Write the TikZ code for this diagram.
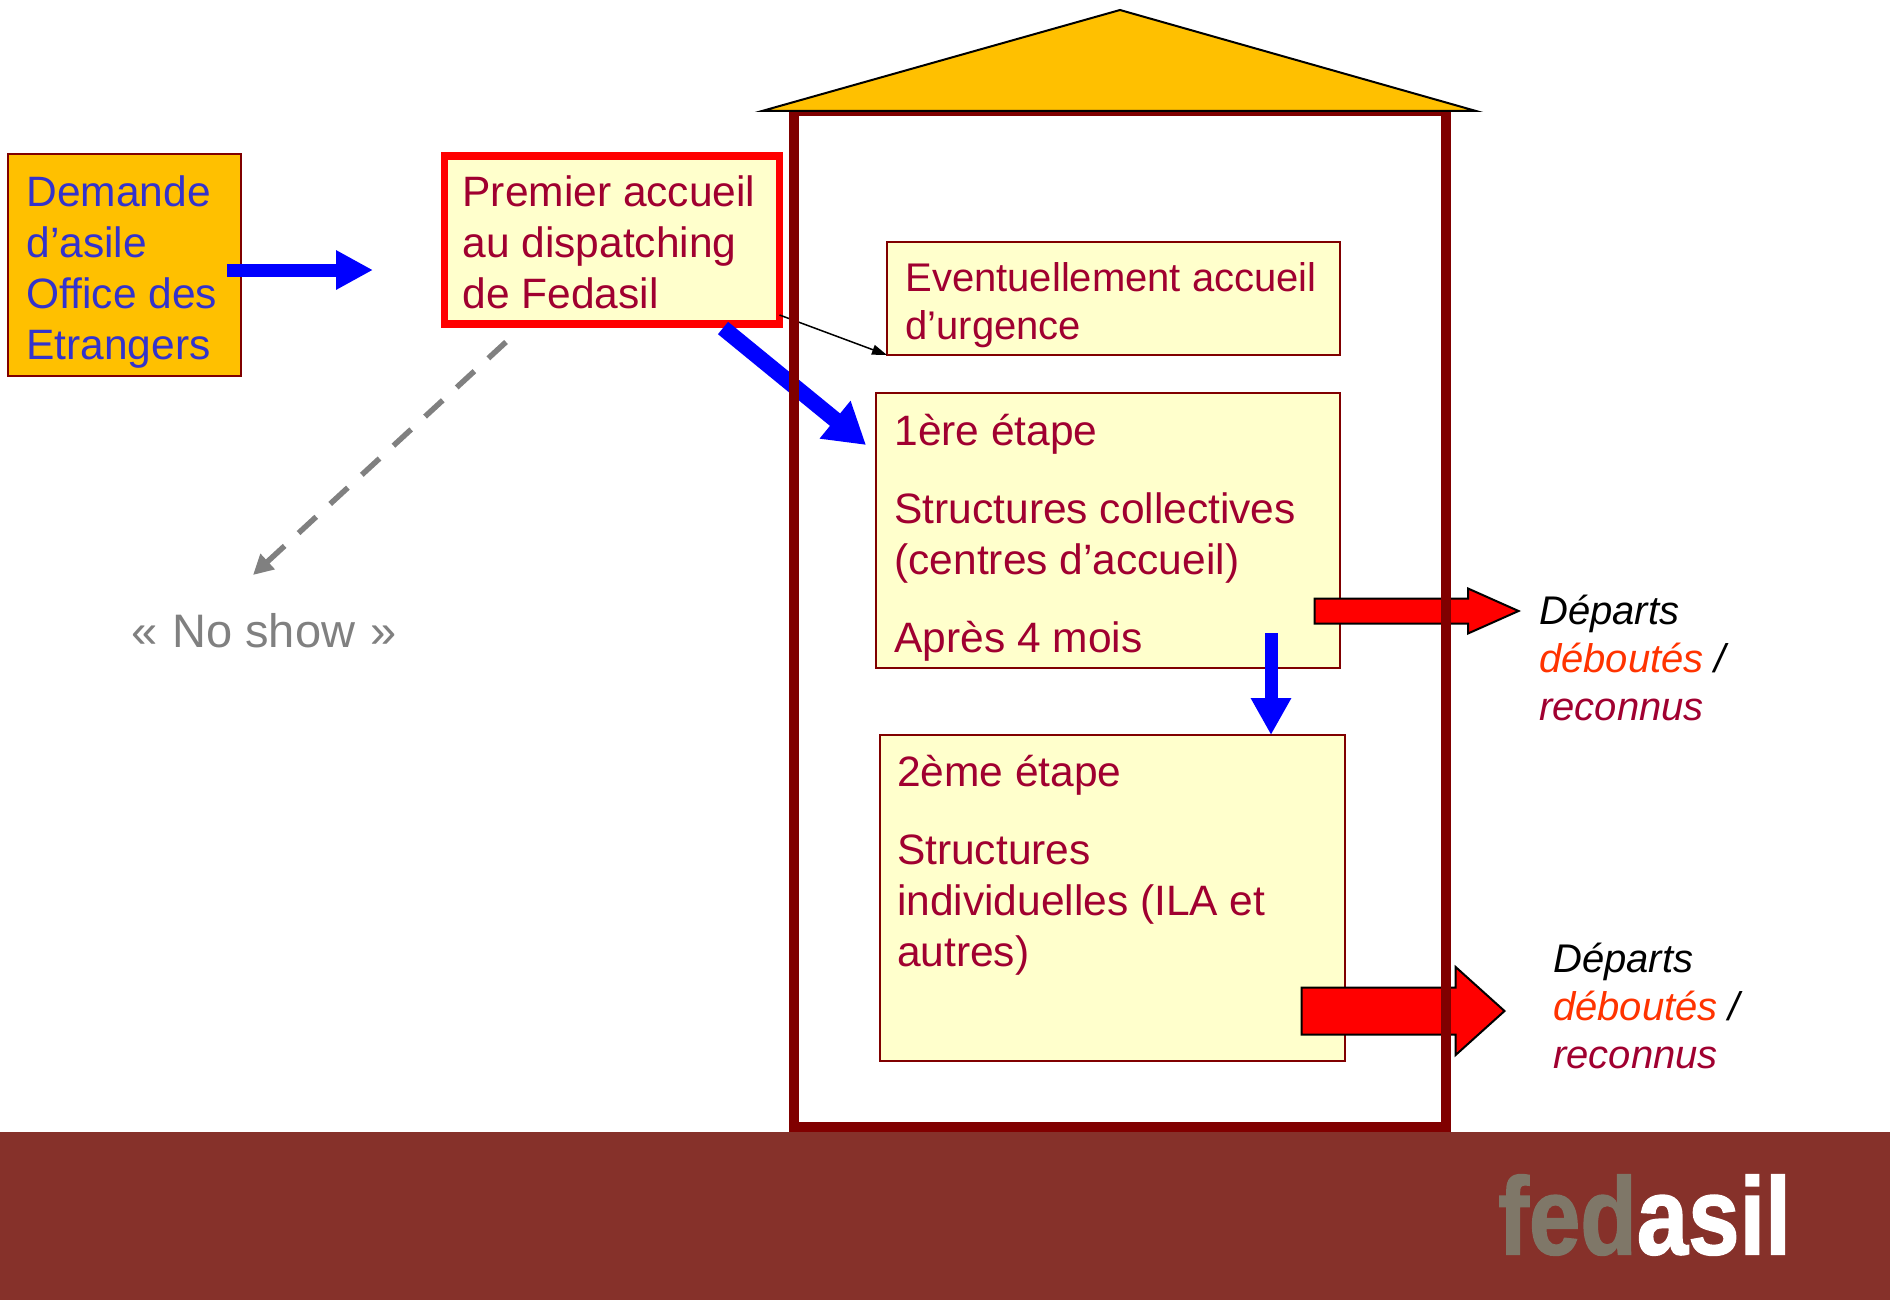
\documentclass[tikz,border=0pt]{standalone}
\usepackage{fontspec}
\usepackage{xcolor}
\usetikzlibrary{arrows.meta,shapes.arrows}
\setmainfont{Liberation Sans}
\definecolor{frameRed}{HTML}{800000}
\definecolor{roofGold}{HTML}{FFC000}
\definecolor{paleBox}{HTML}{FFFFCC}
\definecolor{boxText}{HTML}{A00030}
\definecolor{askText}{HTML}{3333CC}
\definecolor{refusedText}{HTML}{FF3300}
\definecolor{barBrown}{HTML}{86312A}
\definecolor{logoGrey}{HTML}{7F7768}
\newcommand{\fontBig}{\fontsize{42.5pt}{51pt}\selectfont}
\newcommand{\fontSmall}{\fontsize{40pt}{48pt}\selectfont}
\newcommand{\tophead}[1]{\rule{0pt}{#1pt}}
\tikzset{
	infobox/.style={draw=frameRed, line width=2pt, fill=paleBox, text=boxText, anchor=north west, align=flush left, outer sep=0pt, inner xsep=18.4pt, inner ysep=0pt, font=\fontBig},
	bluearrow/.style={draw=blue, line width=13pt, -{Triangle[length=37pt,width=37pt]}},
	departarrow/.style={single arrow, draw=black, fill=red, line width=2pt, inner xsep=0pt, anchor=tip, single arrow head indent=0pt},
	departtext/.style={anchor=north west, align=flush left, inner sep=0pt, font=\fontSmall\itshape}
}
\begin{document}
\begin{tikzpicture}[x=1pt, y=-1pt]
	\useasboundingbox (0,0) rectangle (1890,1300);
	\fill[barBrown] (0,1132) rectangle (1890,1300);
	\node[anchor=west, inner sep=0pt, font=\fontsize{110pt}{110pt}\bfseries\addfontfeature{FakeBold=1.5}, xscale=0.84, transform shape] (logo) at (1498,1215) {\textcolor{logoGrey}{fed}\textcolor{white}{asil}};

	\node[infobox, fill=roofGold, text=askText, text width=196.2pt, minimum height=222pt] (demande) at (8,154) {\tophead{45}Demande\\d’asile\\Office des\\Etrangers};
	\node[infobox, draw=red, line width=7.5pt, inner xsep=18pt, text width=299pt, minimum height=168pt] (premier) at (444.5,156) {\tophead{35}Premier accueil\\au dispatching\\de Fedasil};
	\node[infobox, font=\fontSmall, text width=416.5pt, minimum height=113pt] (urgence) at (887,242) {\tophead{43}Eventuellement accueil\\d’urgence};
	\node[infobox, text width=427.5pt, minimum height=275pt] (etapeUn) at (876,393) {\tophead{45}1ère étape\\[27pt]Structures collectives\\(centres d’accueil)\\[27pt]Après 4 mois};
	\node[infobox, inner xsep=17pt, text width=431pt, minimum height=326pt] (etapeDeux) at (880,735) {2ème étape\\[27pt]Structures\\individuelles (ILA et\\autres)\\[24pt]\mbox{}};

	\node[anchor=base west, inner sep=0pt, text=gray, font=\fontsize{47pt}{56pt}\selectfont] (noshow) at (131,647) {«\hspace{.32em}No show\hspace{.32em}»};

	\node[departtext] (departUn) at (1539,595) {Départs\\\textcolor{refusedText}{déboutés} /\\\textcolor{boxText}{reconnus}};
	\node[departtext] (departDeux) at (1553,943) {Départs\\\textcolor{refusedText}{déboutés} /\\\textcolor{boxText}{reconnus}};

	\coordinate (demandeOut) at (227,270);
	\coordinate (premierIn) at (373,270);
	\coordinate (premierOut) at (723,328);
	\coordinate (etapeUnIn) at (866,445);
	\coordinate (noshowOut) at (506,342);
	\coordinate (noshowIn) at (253,575);
	\coordinate (etapeUnOut) at (1271,633);
	\coordinate (etapeDeuxIn) at (1271,735);
	\coordinate (tipUn) at (1521,611);
	\coordinate (tipDeux) at (1506,1011);

	\draw[bluearrow] (demandeOut) -- (premierIn);
	\draw[bluearrow, line width=16pt, -{Triangle[length=40pt,width=46pt]}] (premierOut) -- (etapeUnIn);
	\draw[draw=gray, line width=5.5pt, dash pattern=on 24pt off 19pt, -{Triangle[length=20pt,width=20pt]}] (noshowOut) -- (noshowIn);
	\draw[black, line width=1.5pt, -{Triangle[length=15pt,width=10pt]}] ([yshift=9pt]premier.south east) -- (urgence.south west);
	\draw[bluearrow, -{Triangle[length=37pt,width=38pt]}] (etapeUnOut) -- (etapeDeuxIn);

	\node[departarrow, inner ysep=11.5pt, minimum height=204pt, single arrow head extend=10pt, single arrow tip angle=48] (sortieUn) at (tipUn) {};
	\node[departarrow, inner ysep=22.5pt, minimum height=203pt, single arrow head extend=20.5pt, single arrow tip angle=84] (sortieDeux) at (tipDeux) {};

	\draw[frameRed, line width=10pt] (793.5,111) rectangle (1445.5,1127);
	\filldraw[fill=roofGold, draw=black, line width=2pt] (762,111) -- (1120,10) -- (1476,111) -- cycle;
\end{tikzpicture}
\end{document}
